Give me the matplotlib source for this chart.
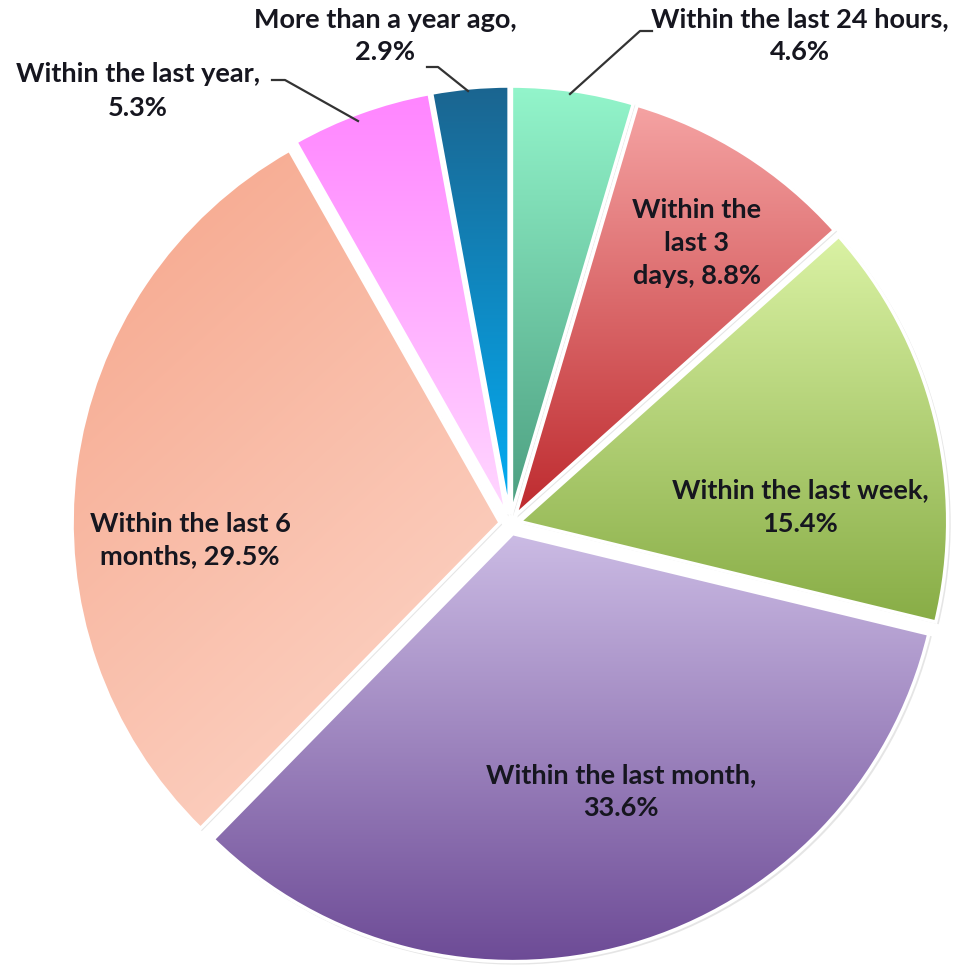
"""Pie chart: when was the last time."""

import numpy as np
import matplotlib.pyplot as plt
from matplotlib.patches import Wedge
from matplotlib.colors import to_rgb

W, H = 962, 970

# slice data, clockwise from 12 o'clock
categories = ["Within the last 24 hours", "Within the last 3 days", "Within the last week",
              "Within the last month", "Within the last 6 months", "Within the last year",
              "More than a year ago"]
shares = [4.6, 8.8, 15.4, 33.6, 29.5, 5.3, 2.9]
label_texts = ["Within the last 24 hours,\n4.6%", "Within the\nlast 3\ndays, 8.8%",
               "Within the last week,\n15.4%", "Within the last month,\n33.6%",
               "Within the last 6\nmonths, 29.5%", "Within the last year,\n5.3%",
               "More than a year ago,\n2.9%"]

# gradient end colours (start, end) and direction in degrees (270 = top to bottom)
grad_colors = [("#93f5cb", "#4c9e80"), ("#f5a3a3", "#be2a2e"), ("#daf2a4", "#88ad46"),
               ("#cbbbe4", "#6d4b96"), ("#f6a58a", "#fdd9cc"), ("#ff85ff", "#ffd8ff"),
               ("#1b6590", "#03aef5")]
grad_dir = [270, 270, 270, 270, 300, 270, 270]


def img_y(y):
    """Convert a top-down pixel y into axes coordinates."""
    return H - y


def gradient_fill(ax, patch, c0, c1, direction):
    """Fill a patch with a linear gradient clipped to its outline."""
    bb = patch.get_path().get_extents()
    x0, y0, x1, y1 = bb.x0, bb.y0, bb.x1, bb.y1
    n = 200
    xs, ys = np.meshgrid(np.linspace(0, 1, n), np.linspace(0, 1, n))
    d = np.deg2rad(direction)
    t = (xs - 0.5) * np.cos(d) + (ys - 0.5) * np.sin(d)
    t = (t - t.min()) / (t.max() - t.min())
    a, b = np.array(to_rgb(c0)), np.array(to_rgb(c1))
    img = a + (b - a) * t[..., None]
    im = ax.imshow(img, extent=[x0, x1, y0, y1], origin="lower",
                   aspect="auto", interpolation="bicubic", zorder=2)
    im.set_clip_path(patch)


fig = plt.figure(figsize=(W / 100, H / 100), dpi=100)
ax = fig.add_axes([0, 0, 1, 1])
ax.axis("off")

cx, cy = 510, img_y(525)
radius = 428
explode = 10

angle = 90.0
for share, (c0, c1), gd in zip(shares, grad_colors, grad_dir):
    span = share / sum(shares) * 360
    theta1, theta2 = angle - span, angle
    mid = np.deg2rad((theta1 + theta2) / 2)
    center = (cx + explode * np.cos(mid), cy + explode * np.sin(mid))
    # soft shadow behind the slice
    shadow = Wedge((center[0] + 2, center[1] - 2), radius + 1, theta1, theta2,
                   facecolor="#9a9a9a", alpha=0.25, edgecolor="none", zorder=1)
    ax.add_patch(shadow)
    w = Wedge(center, radius, theta1, theta2, facecolor="none",
              edgecolor="white", linewidth=2.5, zorder=3)
    ax.add_patch(w)
    gradient_fill(ax, w, c0, c1, gd)
    angle = theta1

# label positions (centre of the text block)
label_pos = [(800, 36), (697, 243), (800, 507), (621, 792), (190, 540), (138, 91), (385, 36)]
for txt, (x, y) in zip(label_texts, label_pos):
    ax.text(x, img_y(y), txt, ha="center", va="center", fontsize=19.5,
            fontweight="bold", family="Lato", color="#16161f", linespacing=1.45, zorder=5)

# leader lines for the outside labels
leaders = [
    [(570, 95), (640, 32), (652, 32)],
    [(358, 122), (285, 81), (272, 81)],
    [(468, 92), (438, 68), (427, 68)],
]
for pts in leaders:
    xs = [p[0] for p in pts]
    ys = [img_y(p[1]) for p in pts]
    ax.plot(xs, ys, color="#333333", linewidth=1.6, zorder=4)

ax.set_xlim(0, W)
ax.set_ylim(0, H)
fig.savefig("out.png", dpi=100, facecolor="white")
